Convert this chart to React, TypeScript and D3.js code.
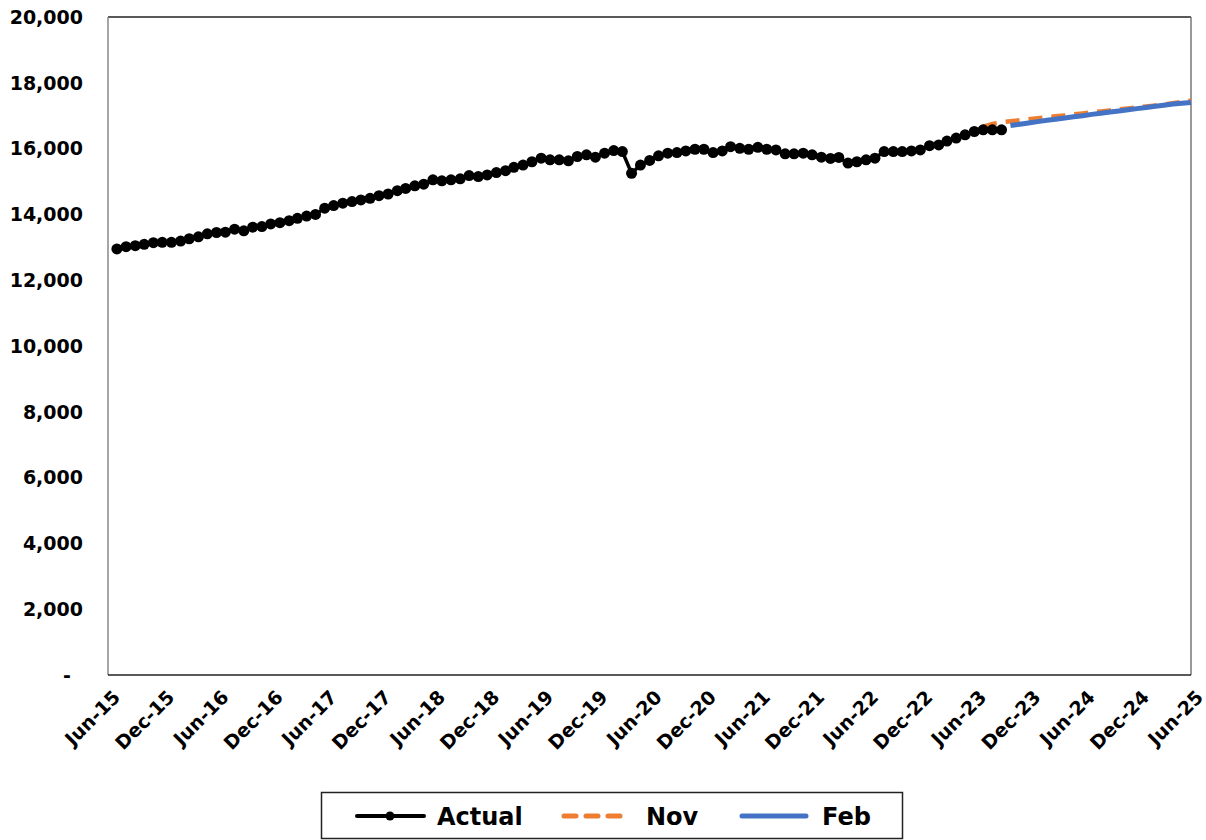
import React, { useEffect, useRef } from "react";
import * as d3 from "d3";

// Actual monthly values, Jul-2015 .. Sep-2023
const actualStart = "2015-07";
const actualValues = [
  12950, 13020, 13050, 13090, 13140, 13150, 13150, 13190, 13260, 13320, 13410, 13450,
  13460, 13550, 13500, 13610, 13630, 13710, 13750, 13810, 13880, 13950, 14000, 14190,
  14270, 14340, 14390, 14440, 14490, 14570, 14620, 14720, 14790, 14870, 14920, 15050,
  15020, 15050, 15080, 15180, 15150, 15200, 15270, 15330, 15430, 15500, 15600, 15710,
  15660, 15660, 15630, 15760, 15810, 15740, 15860, 15940, 15910, 15250, 15500, 15640,
  15780, 15860, 15880, 15930, 15980, 15980, 15880, 15930, 16060, 16010, 15980, 16040,
  15980, 15960, 15840, 15840, 15860, 15810, 15740, 15700, 15730, 15560, 15600, 15660,
  15710, 15910, 15910, 15910, 15930, 15960, 16090, 16110, 16230, 16320, 16420, 16520,
  16570, 16570, 16570,
];

// Nov forecast, Jul-2023 .. Jun-2025
const novStart = "2023-07";
const novValues = [
  16670, 16750, 16800, 16830, 16860, 16890, 16920, 16950, 16980, 17010, 17040, 17070,
  17100, 17130, 17160, 17190, 17220, 17250, 17280, 17310, 17340, 17380, 17420, 17460,
];

// Feb forecast, Oct-2023 .. Jun-2025
const febStart = "2023-10";
const febValues = [
  16700, 16740, 16780, 16820, 16860, 16895, 16930, 16965, 17000, 17040, 17075, 17110,
  17145, 17180, 17215, 17250, 17285, 17320, 17355, 17380, 17400,
];

const yTicks = [0, 2000, 4000, 6000, 8000, 10000, 12000, 14000, 16000, 18000, 20000];
const xTickLabels = [
  "Jun-15", "Dec-15", "Jun-16", "Dec-16", "Jun-17", "Dec-17", "Jun-18", "Dec-18",
  "Jun-19", "Dec-19", "Jun-20", "Dec-20", "Jun-21", "Dec-21", "Jun-22", "Dec-22",
  "Jun-23", "Dec-23", "Jun-24", "Dec-24", "Jun-25",
];
const legendLabels = ["Actual", "Nov", "Feb"];

const parseMonth = d3.timeParse("%Y-%m");
const toSeries = (start: string, vals: number[]) => {
  const s = parseMonth(start) as Date;
  return vals.map((v, i) => ({ date: d3.timeMonth.offset(s, i), value: v }));
};

const W = 1206;
const H = 840;
const M = { left: 108, right: 1191, top: 17, bottom: 675 };
const FONT = "'DejaVu Sans', Verdana, sans-serif";

export default function App() {
  const ref = useRef<SVGSVGElement | null>(null);

  useEffect(() => {
    document.body.style.margin = "0";
    const svg = d3.select(ref.current);
    svg.selectAll("*").remove();

    const x = d3
      .scaleTime()
      .domain([parseMonth("2015-06") as Date, parseMonth("2025-06") as Date])
      .range([M.left, M.right]);
    const y = d3.scaleLinear().domain([0, 20000]).range([M.bottom, M.top]);

    const actual = toSeries(actualStart, actualValues);
    const nov = toSeries(novStart, novValues);
    const feb = toSeries(febStart, febValues);

    svg.append("rect").attr("width", W).attr("height", H).attr("fill", "#fff");

    // Plot frame
    const g = svg.append("g");
    g.append("line").attr("x1", M.left).attr("x2", M.right).attr("y1", M.top).attr("y2", M.top)
      .attr("stroke", "#222").attr("stroke-width", 1.3);
    g.append("line").attr("x1", M.right).attr("x2", M.right).attr("y1", M.top).attr("y2", M.bottom)
      .attr("stroke", "#777").attr("stroke-width", 1.5);
    g.append("line").attr("x1", M.left).attr("x2", M.left).attr("y1", M.top).attr("y2", M.bottom)
      .attr("stroke", "#888").attr("stroke-width", 1.5);
    g.append("line").attr("x1", M.left).attr("x2", M.right).attr("y1", M.bottom).attr("y2", M.bottom)
      .attr("stroke", "#222").attr("stroke-width", 1.5);

    // Y tick labels
    const fmt = d3.format(",");
    svg.append("g")
      .selectAll("text")
      .data(yTicks)
      .join("text")
      .attr("x", (d) => (d === 0 ? 71 : 83))
      .attr("y", (d) => y(d))
      .attr("dy", "0.36em")
      .attr("text-anchor", "end")
      .attr("font-family", FONT)
      .attr("font-weight", "bold")
      .attr("font-size", 19)
      .text((d) => (d === 0 ? "-" : fmt(d)));

    // X tick labels
    const xTickDates = xTickLabels.map((_, i) => d3.timeMonth.offset(parseMonth("2015-06") as Date, i * 6));
    svg.append("g")
      .selectAll("text")
      .data(xTickDates)
      .join("text")
      .attr("transform", (d) => `translate(${x(d) + 4},${M.bottom + 14}) rotate(-45)`)
      .attr("text-anchor", "end")
      .attr("dy", "0.7em")
      .attr("font-family", FONT)
      .attr("font-weight", "bold")
      .attr("font-size", 19)
      .text((_, i) => xTickLabels[i]);

    const line = d3
      .line<{ date: Date; value: number }>()
      .x((d) => x(d.date))
      .y((d) => y(d.value));

    svg.append("path").datum(nov).attr("d", line).attr("fill", "none")
      .attr("stroke", "#ED7D31").attr("stroke-width", 4.5).attr("stroke-dasharray", "14,9");
    svg.append("path").datum(feb).attr("d", line).attr("fill", "none")
      .attr("stroke", "#4472C4").attr("stroke-width", 5);
    svg.append("path").datum(actual).attr("d", line).attr("fill", "none")
      .attr("stroke", "#000").attr("stroke-width", 3.5);
    svg.append("g").selectAll("circle").data(actual).join("circle")
      .attr("cx", (d) => x(d.date)).attr("cy", (d) => y(d.value)).attr("r", 5.5).attr("fill", "#000");

    // Legend
    const lg = svg.append("g");
    lg.append("rect").attr("x", 321.5).attr("y", 792.5).attr("width", 581).attr("height", 46)
      .attr("fill", "#fff").attr("stroke", "#222").attr("stroke-width", 1.5);
    const ly = 816;
    lg.append("line").attr("x1", 357).attr("x2", 424).attr("y1", ly).attr("y2", ly)
      .attr("stroke", "#000").attr("stroke-width", 4).attr("stroke-linecap", "round");
    lg.append("circle").attr("cx", 390).attr("cy", ly).attr("r", 4.5).attr("fill", "#000");
    lg.append("line").attr("x1", 564).attr("x2", 628).attr("y1", ly).attr("y2", ly)
      .attr("stroke", "#ED7D31").attr("stroke-width", 5).attr("stroke-linecap", "round")
      .attr("stroke-dasharray", "12,10");
    lg.append("line").attr("x1", 742).attr("x2", 806).attr("y1", ly).attr("y2", ly)
      .attr("stroke", "#4472C4").attr("stroke-width", 5).attr("stroke-linecap", "round");
    const lx = [437, 646, 822];
    lg.selectAll("text.l").data(legendLabels).join("text")
      .attr("x", (_, i) => lx[i]).attr("y", ly).attr("dy", "0.36em")
      .attr("font-family", FONT).attr("font-weight", "bold").attr("font-size", 24)
      .text((d) => d);
  }, []);

  return (
    <svg
      ref={ref}
      width={W}
      height={H}
      style={{ position: "absolute", left: 0, top: 0, display: "block" }}
    />
  );
}
